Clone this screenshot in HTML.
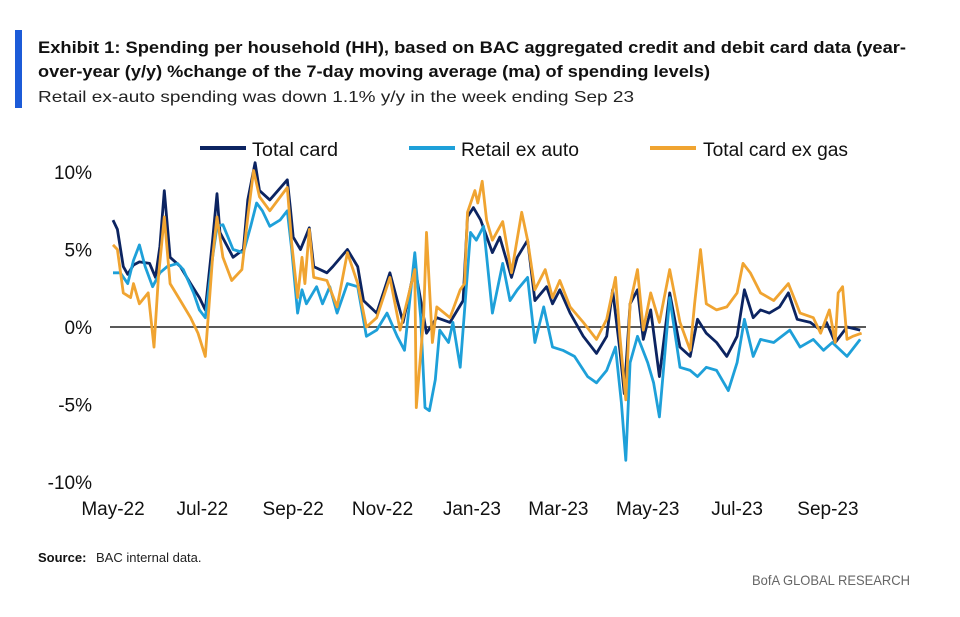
<!DOCTYPE html>
<html><head><meta charset="utf-8"><style>
body{margin:0;background:#fff;width:960px;height:612px;overflow:hidden;font-family:"Liberation Sans",sans-serif;}
svg text{font-family:"Liberation Sans",sans-serif;}
</style></head><body>
<svg id="chart" width="960" height="612" viewBox="0 0 960 612" xmlns="http://www.w3.org/2000/svg">
<rect x="15" y="30" width="7" height="78" fill="#1c5bd8"/>
<text x="38" y="53" font-size="17" font-weight="bold" fill="#111" textLength="868" lengthAdjust="spacingAndGlyphs">Exhibit 1: Spending per household (HH), based on BAC aggregated credit and debit card data (year-</text>
<text x="38" y="77" font-size="17" font-weight="bold" fill="#111" textLength="672" lengthAdjust="spacingAndGlyphs">over-year (y/y)  %change of the 7-day moving average (ma)  of spending levels)</text>
<text x="38" y="102" font-size="16" fill="#222" textLength="596" lengthAdjust="spacingAndGlyphs">Retail ex-auto spending was down 1.1% y/y in the week ending Sep 23</text>
<g>
<line x1="200" y1="148" x2="246" y2="148" stroke="#0c2461" stroke-width="4"/>
<text x="252" y="156" font-size="19" fill="#111" textLength="86" lengthAdjust="spacingAndGlyphs">Total card</text>
<line x1="409" y1="148" x2="455" y2="148" stroke="#1ea0d9" stroke-width="4"/>
<text x="461" y="156" font-size="19" fill="#111" textLength="118" lengthAdjust="spacingAndGlyphs">Retail ex auto</text>
<line x1="650" y1="148" x2="696" y2="148" stroke="#f0a431" stroke-width="4"/>
<text x="703" y="156" font-size="19" fill="#111" textLength="145" lengthAdjust="spacingAndGlyphs">Total card ex gas</text>
</g>
<g id="axes"></g>
<g id="series"></g>
<text x="38" y="562" font-size="13" font-weight="bold" fill="#111">Source:</text>
<text x="96" y="562" font-size="13" fill="#222">BAC internal data.</text>
<text x="910" y="585" font-size="14" fill="#666" text-anchor="end" textLength="158" lengthAdjust="spacingAndGlyphs">BofA GLOBAL RESEARCH</text>
</svg>
<script>
const yTicks=[10,5,0,-5,-10];
const yTickLabels=["10%","5%","0%","-5%","-10%"];
const xTickDays=[0,61,123,184,245,304,365,426,488];
const xTickLabels=["May-22","Jul-22","Sep-22","Nov-22","Jan-23","Mar-23","May-23","Jul-23","Sep-23"];

const totalDays=[0,3,7,10,14,18,25,29,32,35,39,46,53,59,63,68,71,73,82,89,92,97,100,107,119,121,123,128,134,137,146,150,160,167,171,180,189,198,206,214,221,230,239,242,246,251,259,264,272,276,283,288,296,300,305,312,321,330,337,341,346,349,353,358,362,367,373,380,387,394,399,405,412,419,426,431,437,442,448,455,461,467,476,483,487,493,501,510];
const totalVals=[6.9,6.3,3.9,3.4,4.0,4.2,4.1,3.2,5.2,8.8,4.5,3.9,2.8,1.9,1.1,5.6,8.6,6.1,4.5,5.0,8.2,10.6,8.8,8.2,9.5,7.7,5.8,5.0,6.4,3.9,3.5,3.9,5.0,3.9,1.7,0.9,3.5,0.3,3.9,-0.4,0.6,0.3,1.7,7.1,7.7,6.9,4.8,5.8,3.2,4.5,5.6,1.7,2.6,1.5,2.4,0.9,-0.6,-1.7,-0.6,2.4,-1.5,-4.3,1.5,2.4,-0.8,1.1,-3.2,2.2,-1.3,-1.9,0.5,-0.4,-1.0,-1.9,-0.6,2.4,0.6,1.1,0.9,1.3,2.2,0.5,0.3,-0.2,0.3,-1.0,0.0,-0.2];

const retailDays=[0,5,10,14,18,22,27,32,37,44,48,55,59,63,68,71,75,82,89,94,98,102,107,114,119,122,126,129,132,139,143,148,153,160,167,173,180,187,194,199,206,210,213,216,220,223,229,232,237,240,244,248,253,259,266,271,276,283,288,294,300,307,315,324,330,337,343,347,350,353,358,365,369,373,380,387,394,399,405,412,420,426,431,437,442,451,462,469,478,485,491,501,510];
const retailVals=[3.5,3.5,2.8,4.3,5.3,3.9,2.6,3.5,3.9,4.1,3.7,2.2,1.1,0.6,4.5,6.5,6.6,5.0,4.8,6.5,8.0,7.5,6.5,6.9,7.5,5.0,0.9,2.4,1.5,2.6,1.5,2.6,0.9,2.8,2.6,-0.6,-0.2,0.9,-0.6,-1.5,4.8,0.6,-5.2,-5.4,-3.4,-0.2,-1.0,0.3,-2.6,1.1,6.1,5.6,6.5,0.9,4.1,1.7,2.4,3.2,-1.0,1.3,-1.3,-1.5,-1.9,-3.2,-3.6,-2.8,-1.3,-4.9,-8.6,-2.3,-0.6,-2.3,-3.6,-5.8,1.9,-2.6,-2.8,-3.2,-2.6,-2.8,-4.1,-2.3,0.5,-1.9,-0.8,-1.0,-0.2,-1.3,-0.8,-1.5,-1.0,-1.9,-0.8];

const exGasDays=[0,3,7,12,14,18,24,28,31,35,39,46,53,58,63,68,71,75,81,88,92,96,100,107,119,122,126,129,131,134,137,146,153,160,167,173,180,189,196,206,207,212,214,218,221,230,237,240,242,247,249,252,255,259,266,272,279,283,288,295,300,305,312,321,330,337,343,346,350,353,358,362,367,373,380,387,394,397,401,405,412,419,426,430,435,442,451,461,469,478,483,489,493,495,498,501,505,511];
const exGasVals=[5.3,5.0,2.2,1.9,2.8,1.5,2.2,-1.3,3.2,7.1,2.8,1.7,0.6,-0.4,-1.9,4.5,7.1,4.5,3.0,3.7,7.1,10.1,8.4,7.5,9.0,5.4,1.9,4.5,2.8,6.3,3.2,3.0,1.3,4.8,2.8,0.0,0.6,3.2,-0.2,3.7,-5.2,0.6,6.1,-1.0,1.3,0.6,2.4,2.8,7.4,8.8,8.0,9.4,6.9,5.6,6.8,3.5,7.4,5.6,2.4,3.7,1.9,3.0,1.3,0.3,-0.8,0.5,3.2,-0.6,-4.7,1.5,3.7,-0.2,2.2,0.3,3.7,0.3,-1.5,1.5,5.0,1.5,1.1,1.3,2.2,4.1,3.5,2.2,1.7,2.8,0.9,0.6,-0.4,1.1,-1.0,2.2,2.6,-0.8,-0.6,-0.4];

const NS="http://www.w3.org/2000/svg";
function xS(d){return 113+d*1.465;}
function yS(v){return 327-v*15.5;}
const axes=document.getElementById('axes');
yTicks.forEach((t,i)=>{
  const tx=document.createElementNS(NS,'text');
  tx.setAttribute('x',92);tx.setAttribute('y',yS(t)+7);
  tx.setAttribute('font-size','19');tx.setAttribute('text-anchor','end');tx.setAttribute('fill','#111');
  tx.textContent=yTickLabels[i];
  
  
  axes.appendChild(tx);
});
xTickDays.forEach((d,i)=>{
  const tx=document.createElementNS(NS,'text');
  tx.setAttribute('x',xS(d));tx.setAttribute('y',515);
  tx.setAttribute('font-size','19');tx.setAttribute('text-anchor','middle');tx.setAttribute('fill','#111');
  tx.textContent=xTickLabels[i];
  
  
  axes.appendChild(tx);
});
const zl=document.createElementNS(NS,'line');
zl.setAttribute('x1',110);zl.setAttribute('x2',866);zl.setAttribute('y1',yS(0));zl.setAttribute('y2',yS(0));
zl.setAttribute('stroke','#222');zl.setAttribute('stroke-width','1.5');


axes.appendChild(zl);

const sg=document.getElementById('series');
function draw(days,vals,color,name){
  const p=document.createElementNS(NS,'polyline');
  p.setAttribute('points',days.map((d,i)=>xS(d).toFixed(1)+','+yS(vals[i]).toFixed(1)).join(' '));
  p.setAttribute('fill','none');p.setAttribute('stroke',color);p.setAttribute('stroke-width','2.8');
  p.setAttribute('stroke-linejoin','round');
  
  
  sg.appendChild(p);
}
draw(totalDays,totalVals,'#0c2461','line-total-card');
draw(retailDays,retailVals,'#1ea0d9','line-retail-ex-auto');
draw(exGasDays,exGasVals,'#f0a431','line-total-card-ex-gas');
</script>
</body></html>
